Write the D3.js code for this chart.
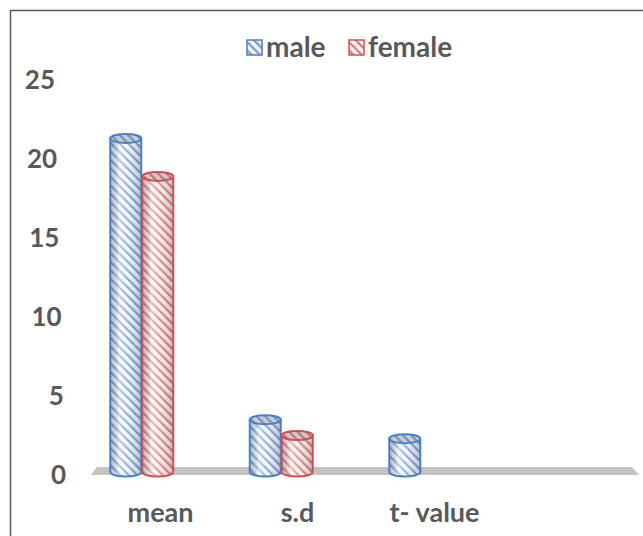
<!DOCTYPE html>
<html>
<head>
<meta charset="utf-8">
<script src="https://cdn.jsdelivr.net/npm/d3@7"></script>
<style>
  body { margin: 0; background: #fff; }
  svg { display: block; }
  text { font-family: Lato, "Open Sans", sans-serif; font-weight: 700; fill: #595959; }
</style>
</head>
<body>
<svg id="chart" width="643" height="536"></svg>
<script>
// Chart data
const categories = ["mean", "s.d", "t- value", ""];
const seriesNames = ["male", "female"];
const maleValues = [21.3, 3.5, 2.3, null];
const femaleValues = [18.9, 2.5, null, null];
const yTicks = [0, 5, 10, 15, 20, 25];

const seriesValues = { male: maleValues, female: femaleValues };
const seriesColors = {
  male:   { stroke: "#4a7fc8", stripe: "#6e9ddb", base: "#f3f7fd" },
  female: { stroke: "#d0504f", stripe: "#df7573", base: "#fdf3f3" }
};

const svg = d3.select("#chart");
const W = 643, H = 536;

// Scales
const y = d3.scaleLinear().domain([0, 25]).range([475, 80]);
const xLabel = d3.scaleBand().domain(categories).range([92, 640]);
const xBar = d3.scaleBand().domain(categories).range([72, 630]);
const xSeries = d3.scaleBand().domain(seriesNames).range([-32, 32]);

// Definitions: striped patterns and cylinder shading
const defs = svg.append("defs");
seriesNames.forEach(s => {
  const c = seriesColors[s];
  const p = defs.append("pattern")
    .attr("id", "pat-" + s)
    .attr("patternUnits", "userSpaceOnUse")
    .attr("width", 6).attr("height", 6)
    .attr("patternTransform", "rotate(-45)");
  p.append("rect").attr("width", 6).attr("height", 6).attr("fill", c.base);
  p.append("rect").attr("x", 0).attr("width", 2.2).attr("height", 6).attr("fill", c.stripe);
});
const shade = defs.append("linearGradient").attr("id", "shade")
  .attr("x1", "0%").attr("x2", "100%").attr("y1", "0%").attr("y2", "0%");
[["0%", "#3a3a3a", 0.28], ["30%", "#ffffff", 0.5], ["55%", "#ffffff", 0.2], ["100%", "#3a3a3a", 0.28]]
  .forEach(([o, c, a]) => shade.append("stop").attr("offset", o).attr("stop-color", c).attr("stop-opacity", a));

// Frame
svg.append("line").attr("x1", 10).attr("x2", W).attr("y1", 10.5).attr("y2", 10.5)
  .attr("stroke", "#595959").attr("stroke-width", 1.5);
svg.append("line").attr("x1", 10.5).attr("x2", 10.5).attr("y1", 10).attr("y2", H)
  .attr("stroke", "#595959").attr("stroke-width", 1.5);

// Floor (3D base plane)
const fx0 = xLabel.range()[0], fx1 = xLabel.range()[1];
const fy = y(0);
svg.append("polygon")
  .attr("points", [[fx0 - 1, fy], [fx0 + 5, fy - 8], [fx1 - 8, fy - 8], [fx1 - 1, fy]].map(p => p.join(",")).join(" "))
  .attr("fill", "#c3c3c3");

// Value axis labels (slight perspective drift)
svg.append("g").selectAll("text").data(yTicks).join("text")
  .attr("x", d => 66 - d * 0.44)
  .attr("y", d => y(d))
  .attr("dy", "0.36em")
  .attr("text-anchor", "end")
  .attr("font-size", 26)
  .text(d => d);

// Category labels
svg.append("g").selectAll("text").data(categories).join("text")
  .attr("x", d => xLabel(d) + xLabel.bandwidth() / 2)
  .attr("y", 522)
  .attr("text-anchor", "middle")
  .attr("font-size", 27)
  .text(d => d);

// Cylinders
const barData = [];
seriesNames.forEach(s => {
  seriesValues[s].forEach((v, i) => {
    if (v != null) barData.push({ series: s, cat: categories[i], value: v });
  });
});

const rx = 15.5, ry = 4.5;
const bars = svg.append("g").selectAll("g").data(barData).join("g");
bars.each(function(d) {
  const g = d3.select(this);
  const c = seriesColors[d.series];
  const cx = xBar(d.cat) + xBar.bandwidth() / 2 + xSeries(d.series) + xSeries.bandwidth() / 2;
  const top = y(d.value);
  const bot = y(0) - 3;
  const body = `M${cx - rx},${top} L${cx - rx},${bot} A${rx},${ry} 0 0 0 ${cx + rx},${bot} L${cx + rx},${top} Z`;
  g.append("path").attr("d", body).attr("fill", `url(#pat-${d.series})`);
  g.append("path").attr("d", body).attr("fill", "url(#shade)");
  g.append("path").attr("d", body).attr("fill", "none")
    .attr("stroke", c.stroke).attr("stroke-width", 2);
  g.append("ellipse").attr("cx", cx).attr("cy", top).attr("rx", rx).attr("ry", ry)
    .attr("fill", `url(#pat-${d.series})`);
  g.append("ellipse").attr("cx", cx).attr("cy", top).attr("rx", rx).attr("ry", ry)
    .attr("fill", "#7f7f7f").attr("fill-opacity", 0.35)
    .attr("stroke", c.stroke).attr("stroke-width", 2);
});

// Legend
const legendItems = [
  { name: "male", sx: 247, tx: 266 },
  { name: "female", sx: 349, tx: 368 }
];
const legend = svg.append("g").selectAll("g").data(legendItems).join("g");
legend.append("rect")
  .attr("x", d => d.sx).attr("y", 40).attr("width", 15).attr("height", 15)
  .attr("fill", d => `url(#pat-${d.name})`)
  .attr("stroke", d => seriesColors[d.name].stroke).attr("stroke-width", 1.5);
legend.append("text")
  .attr("x", d => d.tx).attr("y", 57)
  .attr("font-size", 28)
  .text(d => d.name);
</script>
</body>
</html>
